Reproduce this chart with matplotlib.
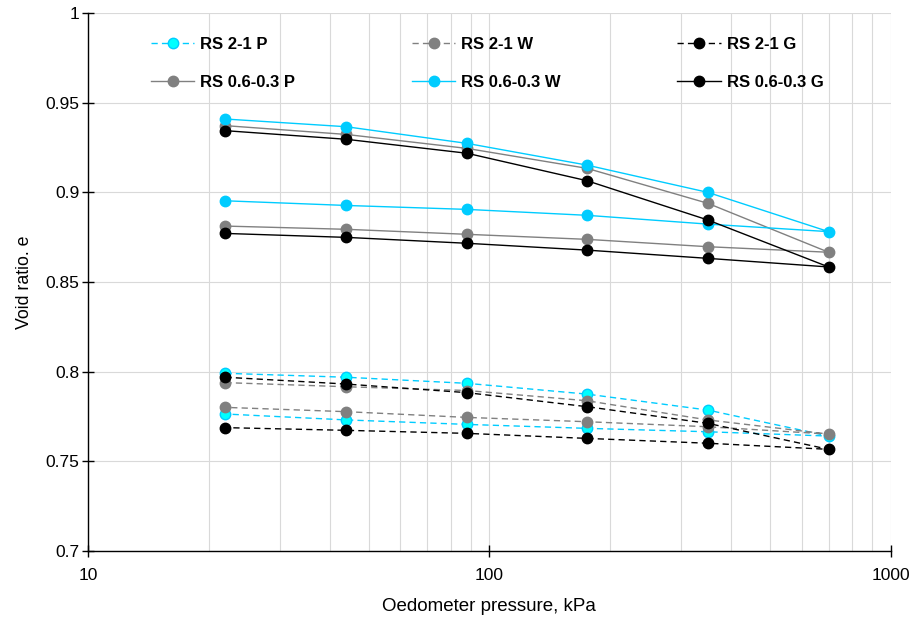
import matplotlib
matplotlib.use("Agg")
import matplotlib.pyplot as plt
from matplotlib.ticker import FixedLocator, LogLocator, NullFormatter

plt.rcParams['font.family'] = ['Liberation Sans', 'DejaVu Sans']

# ---- Data: oedometer loading (22 -> 700 kPa) then unloading back to 22 kPa ----
pressure = [22, 44, 88, 175, 350, 700]

# RS 0.6-0.3 (solid lines)
e06_P_load = [0.9372, 0.9323, 0.9245, 0.9134, 0.8939, 0.8666]
e06_P_unload = [0.8812, 0.8794, 0.8766, 0.8738, 0.8697]
e06_W_load = [0.9409, 0.9366, 0.9273, 0.9152, 0.9000, 0.8781]
e06_W_unload = [0.8953, 0.8927, 0.8905, 0.8872, 0.8823]
e06_G_load = [0.9344, 0.9296, 0.9218, 0.9065, 0.8846, 0.8584]
e06_G_unload = [0.8771, 0.8749, 0.8716, 0.8678, 0.8632]

# RS 2-1 (dashed lines)
e21_P_load = [0.7991, 0.7969, 0.7935, 0.7875, 0.7786, 0.7641]
e21_P_unload = [0.7764, 0.7731, 0.7706, 0.7684, 0.7665]
e21_W_load = [0.7939, 0.7916, 0.7895, 0.7838, 0.7731, 0.7652]
e21_W_unload = [0.7801, 0.7777, 0.7745, 0.7721, 0.7693]
e21_G_load = [0.7969, 0.7931, 0.7883, 0.7805, 0.7712, 0.7567]
e21_G_unload = [0.7688, 0.7673, 0.7656, 0.7628, 0.7601]

CYAN = '#00CCFF'
GRAY = '#808080'
BLACK = '#000000'


def loop(load, unload):
    """full test path: loading branch followed by the unloading branch"""
    xs = pressure + pressure[-2::-1]
    ys = load + unload[::-1]
    return xs, ys


fig, ax = plt.subplots(figsize=(9.09, 6.21), dpi=100)
fig.subplots_adjust(left=0.0968, right=0.980, bottom=0.1127, top=0.979)

dash = dict(linestyle=(0, (4.5, 3)), linewidth=1.0, marker='o', markersize=7.5)
solid = dict(linestyle='-', linewidth=1.0, marker='o', markersize=7.5)

h = {}
xs, ys = loop(e21_P_load, e21_P_unload)
h['21P'], = ax.plot(xs, ys, color=CYAN, markerfacecolor='#00FFFF',
                    markeredgecolor=CYAN, label='RS 2-1 P', **dash)
xs, ys = loop(e21_W_load, e21_W_unload)
h['21W'], = ax.plot(xs, ys, color=GRAY, markerfacecolor=GRAY,
                    markeredgecolor=GRAY, label='RS 2-1 W', **dash)
xs, ys = loop(e21_G_load, e21_G_unload)
h['21G'], = ax.plot(xs, ys, color=BLACK, markerfacecolor=BLACK,
                    markeredgecolor=BLACK, label='RS 2-1 G', **dash)
xs, ys = loop(e06_P_load, e06_P_unload)
h['06P'], = ax.plot(xs, ys, color=GRAY, markerfacecolor=GRAY,
                    markeredgecolor=GRAY, label='RS 0.6-0.3 P', **solid)
xs, ys = loop(e06_W_load, e06_W_unload)
h['06W'], = ax.plot(xs, ys, color=CYAN, markerfacecolor=CYAN,
                    markeredgecolor=CYAN, label='RS 0.6-0.3 W', **solid)
xs, ys = loop(e06_G_load, e06_G_unload)
h['06G'], = ax.plot(xs, ys, color=BLACK, markerfacecolor=BLACK,
                    markeredgecolor=BLACK, label='RS 0.6-0.3 G', **solid)

# ---- axes ----
ax.set_xscale('log')
ax.set_xlim(10, 1000)
ax.set_ylim(0.7, 1.0)
ax.xaxis.set_major_locator(FixedLocator([10, 100, 1000]))
ax.xaxis.set_minor_locator(LogLocator(base=10, subs=range(2, 10)))
ax.xaxis.set_minor_formatter(NullFormatter())
ax.set_xticklabels(['10', '100', '1000'])
yt = [0.7, 0.75, 0.8, 0.85, 0.9, 0.95, 1.0]
ax.set_yticks(yt)
ax.set_yticklabels(['0.7', '0.75', '0.8', '0.85', '0.9', '0.95', '1'])

ax.grid(True, which='major', color='#D9D9D9', linewidth=0.8)
ax.grid(True, which='minor', axis='x', color='#D9D9D9', linewidth=0.8)
ax.set_axisbelow(True)

for s in ['top', 'right']:
    ax.spines[s].set_visible(False)
for s in ['left', 'bottom']:
    ax.spines[s].set_linewidth(1.0)
ax.tick_params(axis='both', which='major', direction='inout', length=8,
               width=1.0, labelsize=12.5)
ax.tick_params(axis='y', which='major', pad=2)
ax.tick_params(axis='x', which='major', pad=8)
ax.tick_params(axis='x', which='minor', length=0)

ax.set_xlabel('Oedometer pressure, kPa', fontsize=13.5, labelpad=11)
ax.set_ylabel('Void ratio. e', fontsize=12.8, labelpad=9)

order = ['21P', '06P', '21W', '06W', '21G', '06G']
ax.legend([h[k] for k in order], [h[k].get_label() for k in order],
          ncol=3, loc='upper left', bbox_to_anchor=(0.06, 0.984),
          frameon=False, handlelength=2.6, handletextpad=0.35,
          columnspacing=7.0, labelspacing=1.38,
          prop={'weight': 'bold', 'size': 12})

fig.savefig('out.png', dpi=100)
